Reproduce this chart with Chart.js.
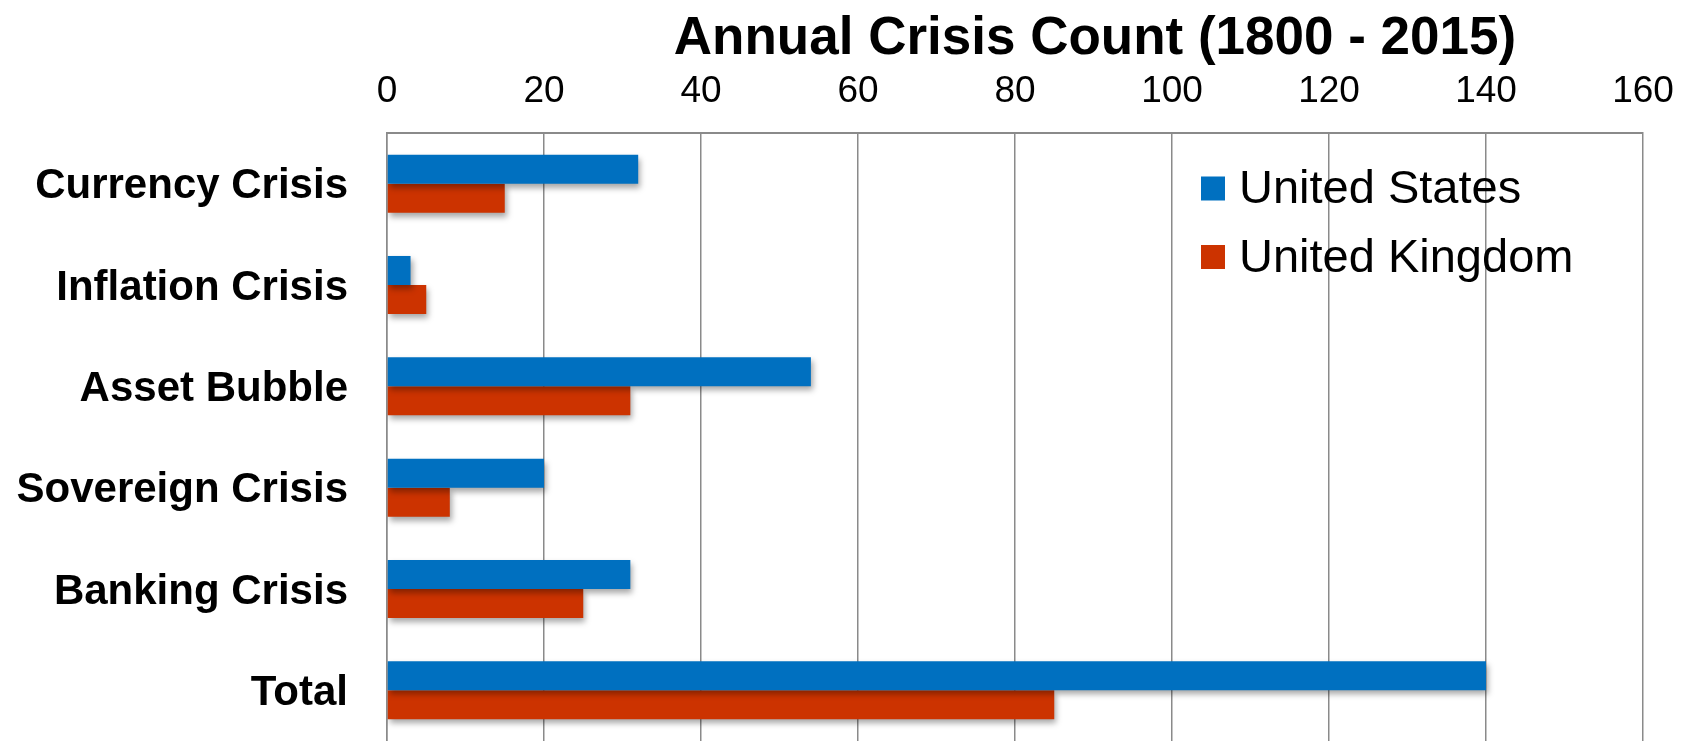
<!DOCTYPE html>
<html>
<head>
<meta charset="utf-8">
<title>Annual Crisis Count (1800 - 2015)</title>
<script src="https://cdn.jsdelivr.net/npm/chart.js@4"></script>
<style>
  body { margin: 0; background: #fff; }
  canvas { display: block; }
</style>
</head>
<body>
<canvas id="grafico" width="1690" height="741"></canvas>
<script>
const categorias = ["Currency Crisis", "Inflation Crisis", "Asset Bubble", "Sovereign Crisis", "Banking Crisis", "Total"];
const estadosUnidos = [32, 3, 54, 20, 31, 140];
const reinoUnido = [15, 5, 31, 8, 25, 85];
const nombresSeries = ["United States", "United Kingdom"];
const coloresSeries = ["#0070c0", "#cc3300"];
const ejeMin = 0;
const ejeMax = 160;
const ejePaso = 20;
const titulo = "Annual Crisis Count (1800 - 2015)";

const fuente = "'Liberation Sans', Arial, sans-serif";
const gris = "#8a8a8a";

// sombra suave bajo las barras
const sombraBarras = {
  id: "sombraBarras",
  beforeDatasetsDraw(chart) {
    const c = chart.ctx;
    c.save();
    c.shadowColor = "rgba(0,0,0,0.35)";
    c.shadowBlur = 6;
    c.shadowOffsetX = 2;
    c.shadowOffsetY = 4;
  },
  afterDatasetsDraw(chart) {
    chart.ctx.restore();
  }
};

// titulo y leyenda dibujados a mano
const textos = {
  id: "textos",
  afterDraw(chart) {
    const c = chart.ctx;
    const area = chart.chartArea;
    c.save();
    c.fillStyle = "#000";
    c.font = "bold 53px " + fuente;
    c.textAlign = "center";
    c.textBaseline = "alphabetic";
    c.fillText(titulo, 1095, 54);

    let y = area.top + 55.5;
    chart.data.datasets.forEach((ds) => {
      c.fillStyle = ds.backgroundColor;
      c.fillRect(area.right - 442, y - 12, 24, 24);
      c.fillStyle = "#000";
      c.font = "47px " + fuente;
      c.textAlign = "left";
      c.textBaseline = "middle";
      c.fillText(ds.label, area.right - 404, y + 2);
      y += 68.5;
    });
    c.restore();
  }
};

const ctx = document.getElementById("grafico");
const myChart = new Chart(ctx, {
  type: "bar",
  data: {
    labels: categorias,
    datasets: [
      { label: nombresSeries[0], data: estadosUnidos, backgroundColor: coloresSeries[0] },
      { label: nombresSeries[1], data: reinoUnido, backgroundColor: coloresSeries[1] }
    ]
  },
  options: {
    indexAxis: "y",
    responsive: false,
    animation: false,
    layout: { padding: { left: 0, top: 0, right: 47, bottom: 0 } },
    datasets: {
      bar: { categoryPercentage: 0.573, barPercentage: 1.0, borderWidth: 0 }
    },
    scales: {
      x: {
        position: "top",
        min: ejeMin,
        max: ejeMax,
        ticks: {
          stepSize: ejePaso,
          color: "#000",
          padding: 19,
          font: { family: fuente, size: 37 }
        },
        grid: { color: gris, lineWidth: 1.5, drawTicks: false },
        border: { color: gris, width: 2 },
        afterFit(scale) {
          scale.height = 133;
          scale.paddingLeft = 0;
          scale.paddingRight = 0;
        }
      },
      y: {
        ticks: {
          color: "#000",
          padding: 39,
          labelOffset: 3,
          font: { family: fuente, size: 42, weight: "bold" }
        },
        grid: { display: false, drawTicks: false },
        border: { color: gris, width: 1.5 },
        afterFit(scale) {
          scale.width = 387;
          scale.paddingTop = 0;
          scale.paddingBottom = 0;
        }
      }
    },
    plugins: {
      legend: { display: false },
      title: { display: false },
      tooltip: { enabled: false }
    }
  },
  plugins: [sombraBarras, textos]
});
</script>
</body>
</html>
